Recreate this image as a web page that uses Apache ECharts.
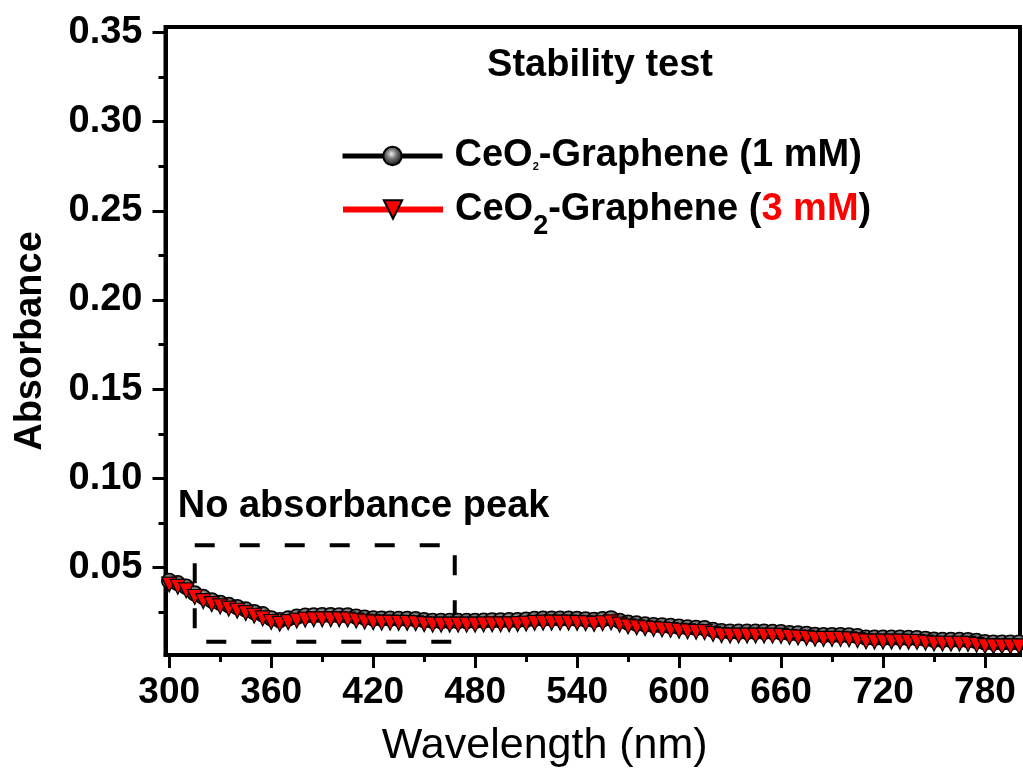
<!DOCTYPE html>
<html>
<head>
<meta charset="utf-8">
<script src="https://cdn.jsdelivr.net/npm/echarts@6/dist/echarts.min.js"></script>
<style>
html, body { margin: 0; padding: 0; background: #fff; }
#main { width: 1023px; height: 771px; }
</style>
</head>
<body>
<div id="main"></div>
<script>
// wavelength (nm)
var wavelength = [300, 305, 310, 315, 320, 325, 330, 335, 340, 345, 350, 355, 360, 365, 370, 375, 380, 385, 390, 395,
  400, 405, 410, 415, 420, 425, 430, 435, 440, 445, 450, 455, 460, 465, 470, 475, 480, 485, 490, 495,
  500, 505, 510, 515, 520, 525, 530, 535, 540, 545, 550, 555, 560, 565, 570, 575, 580, 585, 590, 595,
  600, 605, 610, 615, 620, 625, 630, 635, 640, 645, 650, 655, 660, 665, 670, 675, 680, 685, 690, 695,
  700, 705, 710, 715, 720, 725, 730, 735, 740, 745, 750, 755, 760, 765, 770, 775, 780, 785, 790, 795, 800];

// CeO2-Graphene (1 mM)
var abs1mM = [0.0425, 0.0412, 0.0392, 0.0355, 0.0335, 0.0316, 0.0302, 0.0290, 0.0278, 0.0265, 0.0250, 0.0238, 0.0215, 0.0205, 0.0214, 0.0224, 0.0230, 0.0232, 0.0233, 0.0233,
  0.0232, 0.0231, 0.0225, 0.0219, 0.0215, 0.0213, 0.0213, 0.0212, 0.0212, 0.0210, 0.0205, 0.0201, 0.0200, 0.0200, 0.0200, 0.0200, 0.0201, 0.0202, 0.0204, 0.0204,
  0.0205, 0.0205, 0.0208, 0.0212, 0.0213, 0.0213, 0.0213, 0.0213, 0.0212, 0.0209, 0.0206, 0.0210, 0.0215, 0.0201, 0.0191, 0.0186, 0.0181, 0.0177, 0.0175, 0.0172,
  0.0168, 0.0164, 0.0162, 0.0160, 0.0150, 0.0143, 0.0141, 0.0140, 0.0140, 0.0140, 0.0140, 0.0139, 0.0137, 0.0132, 0.0130, 0.0128, 0.0122, 0.0121, 0.0121, 0.0121,
  0.0120, 0.0115, 0.0107, 0.0106, 0.0106, 0.0106, 0.0106, 0.0105, 0.0104, 0.0100, 0.0095, 0.0094, 0.0094, 0.0094, 0.0093, 0.0088, 0.0081, 0.0079, 0.0079, 0.0079, 0.0079];

// CeO2-Graphene (3 mM)
var abs3mM = [0.0405, 0.0392, 0.0372, 0.0335, 0.0312, 0.0295, 0.0282, 0.0270, 0.0258, 0.0245, 0.0230, 0.0215, 0.0195, 0.0185, 0.0194, 0.0203, 0.0208, 0.0210, 0.0210, 0.0210,
  0.0210, 0.0209, 0.0203, 0.0197, 0.0193, 0.0191, 0.0191, 0.0190, 0.0190, 0.0188, 0.0183, 0.0180, 0.0180, 0.0180, 0.0180, 0.0180, 0.0180, 0.0181, 0.0182, 0.0182,
  0.0182, 0.0183, 0.0186, 0.0190, 0.0191, 0.0191, 0.0191, 0.0191, 0.0190, 0.0188, 0.0184, 0.0188, 0.0193, 0.0180, 0.0170, 0.0165, 0.0160, 0.0156, 0.0153, 0.0150,
  0.0146, 0.0142, 0.0140, 0.0138, 0.0128, 0.0121, 0.0119, 0.0119, 0.0119, 0.0119, 0.0119, 0.0118, 0.0117, 0.0111, 0.0108, 0.0106, 0.0101, 0.0100, 0.0100, 0.0100,
  0.0098, 0.0093, 0.0086, 0.0085, 0.0085, 0.0085, 0.0085, 0.0084, 0.0083, 0.0079, 0.0074, 0.0073, 0.0073, 0.0073, 0.0072, 0.0067, 0.0060, 0.0058, 0.0058, 0.0058, 0.0058];

var xTicks = [300, 360, 420, 480, 540, 600, 660, 720, 780];
var xMinorTicks = [330, 390, 450, 510, 570, 630, 690, 750];
var yTicks = [0.05, 0.10, 0.15, 0.20, 0.25, 0.30, 0.35];
var yMinorTicks = [0.025, 0.075, 0.125, 0.175, 0.225, 0.275, 0.325];

// dashed box "No absorbance peak": [x0, y0, x1, y1]
var peakBox = [315, 0.0625, 468, 0.0084];

var name1 = 'CeO₂-Graphene (1 mM)';
var name2 = 'CeO₂-Graphene (3 mM)';

var FONT = '"Liberation Sans", Arial, sans-serif';
var xMin = 297.8, xMax = 800.6, yMin = 0.001, yMax = 0.353;

function pairs(xs, ys) {
  return xs.map(function (x, i) { return [x, ys[i]]; });
}

var sphere = {
  type: 'radial', x: 0.45, y: 0.4, r: 0.6,
  colorStops: [
    { offset: 0, color: '#f0f0f0' },
    { offset: 0.4, color: '#777' },
    { offset: 1, color: '#0a0a0a' }
  ]
};

var gridBox = { left: 165.5, right: 3, top: 27, bottom: 116, outerBoundsMode: 'none' };

var myChart = echarts.init(document.getElementById('main'));
myChart.setOption({
  animation: false,
  textStyle: { fontFamily: FONT },
  title: {
    text: 'Stability test',
    left: 595,
    top: 42,
    textAlign: 'center',
    textStyle: { fontSize: 38, fontWeight: 'bold', color: '#000', fontFamily: FONT }
  },
  legend: [{
    data: [name1],
    left: 340, top: 137, padding: 0,
    itemWidth: 100, itemHeight: 23,
    lineStyle: { width: 5 },
    formatter: function () { return '{t|CeO}{s1|2}{t|-Graphene (1 mM)}'; },
    textStyle: {
      padding: [0, 0, 0, 7],
      rich: {
        t: { fontSize: 38, fontWeight: 'bold', color: '#000', lineHeight: 42, fontFamily: FONT },
        s1: { fontSize: 11, fontWeight: 'bold', color: '#000', lineHeight: 11, padding: [21, 0, 0, 0], fontFamily: FONT }
      }
    }
  }, {
    data: [name2],
    left: 340, top: 179, padding: 0,
    itemWidth: 100, itemHeight: 23,
    lineStyle: { width: 6 },
    formatter: function () { return '{t|CeO}{s2|2}{t|-Graphene (}{r|3 mM}{t|)}'; },
    textStyle: {
      padding: [0, 0, 0, 7],
      rich: {
        t: { fontSize: 38, fontWeight: 'bold', color: '#000', lineHeight: 42, fontFamily: FONT },
        s2: { fontSize: 27, fontWeight: 'bold', color: '#000', lineHeight: 27, padding: [34, 0, 0, 0], fontFamily: FONT },
        r: { fontSize: 38, fontWeight: 'bold', color: '#ff0000', lineHeight: 42, fontFamily: FONT }
      }
    }
  }],
  grid: [
    Object.assign({ show: true, borderColor: '#000', borderWidth: 4, backgroundColor: 'transparent' }, gridBox),
    Object.assign({ show: false }, gridBox)
  ],
  xAxis: [{
    type: 'value', gridIndex: 0, min: xMin, max: xMax,
    name: 'Wavelength (nm)', nameLocation: 'middle', nameGap: 70,
    nameTextStyle: { fontSize: 43, color: '#000', fontFamily: FONT, padding: [0, 96, 0, 0] },
    axisLine: { show: true, lineStyle: { color: '#000', width: 4 } },
    axisTick: { show: true, customValues: xTicks, length: 13, lineStyle: { color: '#000', width: 3 } },
    axisLabel: { customValues: xTicks, margin: 19, fontSize: 37, fontWeight: 'bold', color: '#000', fontFamily: FONT },
    splitLine: { show: false }
  }, {
    type: 'value', gridIndex: 1, min: xMin, max: xMax,
    axisLine: { show: false },
    axisTick: { show: true, customValues: xMinorTicks, length: 7, lineStyle: { color: '#000', width: 3 } },
    axisLabel: { show: false },
    splitLine: { show: false }
  }],
  yAxis: [{
    type: 'value', gridIndex: 0, min: yMin, max: yMax,
    name: 'Absorbance', nameLocation: 'middle', nameGap: 116,
    nameTextStyle: { fontSize: 38, fontWeight: 'bold', color: '#000', fontFamily: FONT },
    axisLine: { show: true, lineStyle: { color: '#000', width: 4 } },
    axisTick: { show: true, customValues: yTicks, length: 13, lineStyle: { color: '#000', width: 3 } },
    axisLabel: {
      customValues: yTicks, margin: 23, fontSize: 38, fontWeight: 'bold', color: '#000', fontFamily: FONT,
      formatter: function (v) { return v.toFixed(2); }
    },
    splitLine: { show: false }
  }, {
    type: 'value', gridIndex: 1, min: yMin, max: yMax,
    axisLine: { show: false },
    axisTick: { show: true, customValues: yMinorTicks, length: 7, lineStyle: { color: '#000', width: 3 } },
    axisLabel: { show: false },
    splitLine: { show: false }
  }],
  series: [{
    name: name1,
    type: 'line',
    xAxisIndex: 0, yAxisIndex: 0,
    data: pairs(wavelength, abs1mM),
    symbol: 'circle',
    symbolSize: 15,
    lineStyle: { color: '#000', width: 5 },
    itemStyle: { color: sphere, borderColor: '#000', borderWidth: 1.5 },
    markArea: {
      silent: true,
      itemStyle: { color: 'transparent', borderColor: '#000', borderWidth: 4, borderType: [20, 25] },
      label: {
        show: true, position: [-15, -56], align: 'left', verticalAlign: 'top',
        fontSize: 38, fontWeight: 'bold', color: '#000', fontFamily: FONT
      },
      data: [[
        { name: 'No absorbance peak', xAxis: peakBox[0], yAxis: peakBox[1] },
        { xAxis: peakBox[2], yAxis: peakBox[3] }
      ]]
    }
  }, {
    name: name2,
    type: 'line',
    xAxisIndex: 0, yAxisIndex: 0,
    data: pairs(wavelength, abs3mM),
    symbol: 'triangle',
    symbolRotate: 180,
    symbolSize: 15,
    lineStyle: { color: '#ff0000', width: 6 },
    itemStyle: { color: '#ff0000', borderColor: '#000', borderWidth: 1.2 }
  }]
});
</script>
</body>
</html>
